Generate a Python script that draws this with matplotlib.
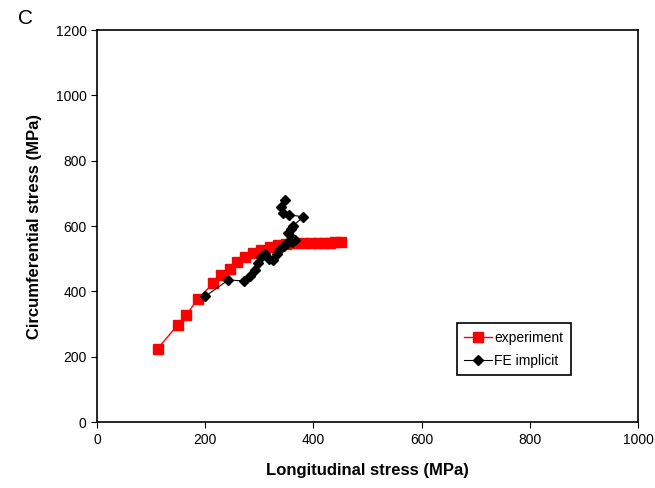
import numpy as np
import matplotlib.pyplot as plt

plt.rcParams['font.family'] = ['Liberation Sans', 'DejaVu Sans']

# experiment (red squares)
exp_x = [112, 150, 165, 187, 215, 230, 246, 258, 274, 289, 304, 320, 335,
         350, 365, 380, 395, 408, 420, 430, 440, 452]
exp_y = [225, 298, 328, 378, 425, 450, 470, 490, 505, 518, 528, 537, 543,
         546, 547, 548, 548, 549, 549, 549, 550, 550]

# FE implicit (black diamonds)
fe_x = [200, 243, 272, 283, 292, 298, 303, 310, 318, 326, 333, 338, 345,
        352, 360, 366, 360, 354, 358, 362, 381, 355, 344, 341, 348]
fe_y = [385, 435, 432, 448, 465, 488, 505, 515, 500, 495, 515, 530, 540,
        548, 552, 556, 565, 578, 590, 600, 628, 635, 640, 658, 680]

fig = plt.figure(figsize=(6.55, 4.88), dpi=100)
ax = fig.add_axes([0.148, 0.135, 0.826, 0.8035])

ax.plot(exp_x, exp_y, color='red', marker='s', markersize=7.5, linewidth=1,
        label='experiment')
ax.plot(fe_x, fe_y, color='black', marker='D', markersize=5, linewidth=0.8,
        label='FE implicit')

ax.set_xlim(0, 1000)
ax.set_ylim(0, 1200)
ax.set_xticks(np.arange(0, 1001, 200))
ax.set_yticks(np.arange(0, 1201, 200))
ax.tick_params(labelsize=10, direction='out', length=4)
for s in ax.spines.values():
    s.set_linewidth(1.2)

ax.set_xlabel('Longitudinal stress (MPa)', fontsize=12, fontweight='bold',
              labelpad=12)
ax.set_ylabel('Circumferential stress (MPa)', fontsize=12, fontweight='bold',
              labelpad=10)

leg = ax.legend(loc='upper left', bbox_to_anchor=(0.665, 0.253),
                fontsize=10, fancybox=False, framealpha=1,
                edgecolor='black', handlelength=2.0, borderpad=0.55,
                labelspacing=0.65, handletextpad=0.15, borderaxespad=0)
leg.get_frame().set_linewidth(1.2)

fig.text(0.027, 0.95, 'C', fontsize=15)

fig.savefig('out.png', dpi=100)
